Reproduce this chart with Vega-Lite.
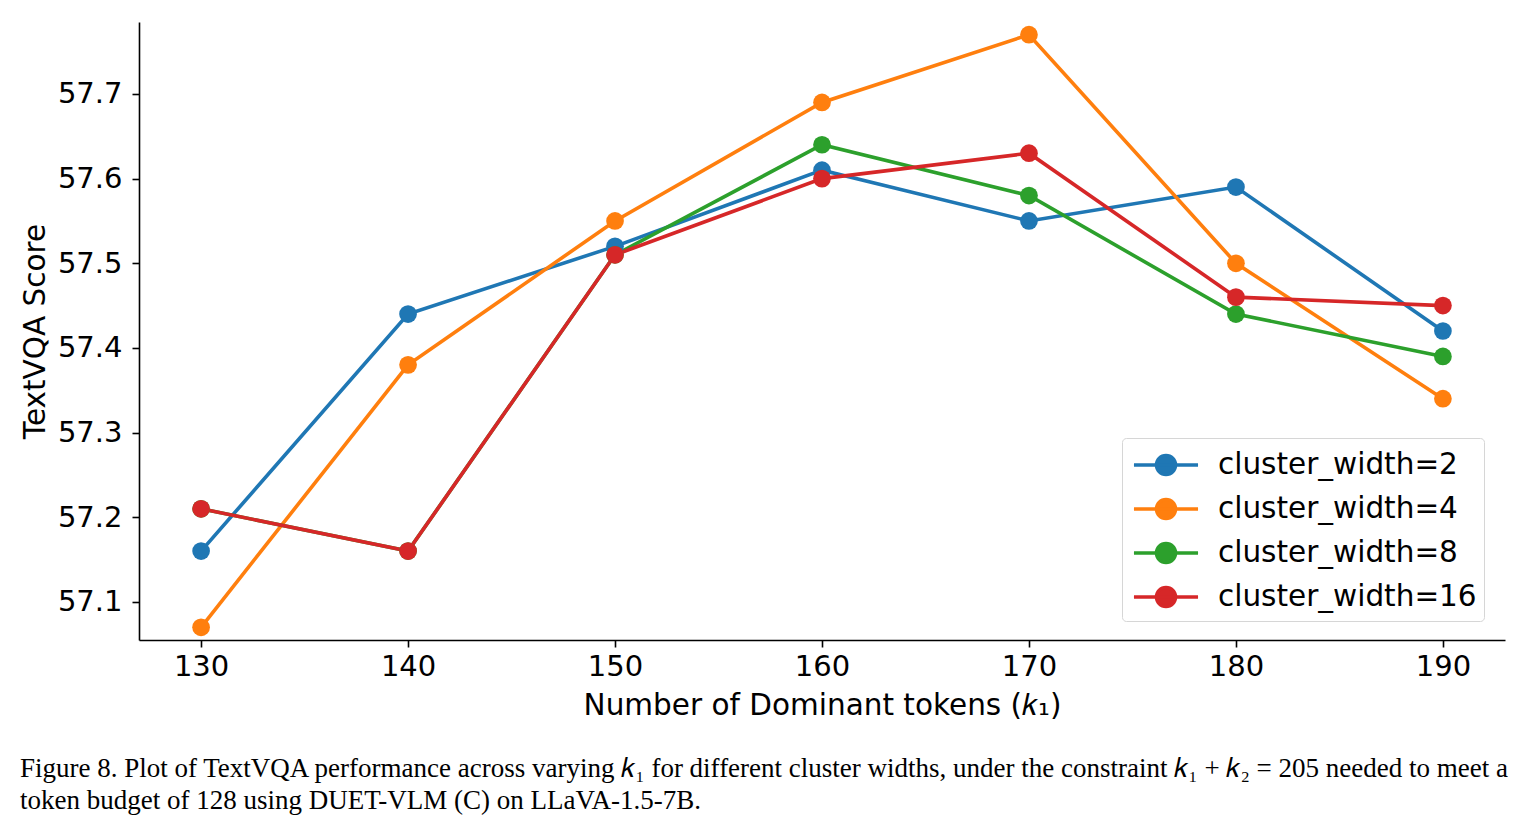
{
  "$schema": "https://vega.github.io/schema/vega-lite/v6.json",
  "width": 1366,
  "height": 618,
  "autosize": {"type": "none"},
  "padding": {"left": 139, "top": 22, "right": 16, "bottom": 190},
  "background": "white",
  "config": {
    "view": {"stroke": null},
    "font": "DejaVu Sans",
    "axis": {
      "domainColor": "black",
      "domainWidth": 1.6,
      "tickColor": "black",
      "tickWidth": 1.6,
      "tickSize": 7,
      "labelColor": "black",
      "labelFont": "DejaVu Sans",
      "labelFontSize": 29,
      "titleFont": "DejaVu Sans",
      "titleFontSize": 29.5,
      "titleFontWeight": "normal",
      "titleColor": "black",
      "grid": false
    }
  },
  "title": {
    "text": [
      "Figure 8. Plot of TextVQA performance across varying 𝑘₁ for different cluster widths, under the constraint 𝑘₁ + 𝑘₂ = 205 needed to meet a",
      "token budget of 128 using DUET-VLM (C) on LLaVA-1.5-7B."
    ],
    "orient": "bottom",
    "anchor": "start",
    "frame": "group",
    "align": "left",
    "dx": -119,
    "offset": 36,
    "font": "Liberation Serif",
    "fontSize": 27,
    "fontWeight": "normal",
    "color": "black",
    "lineHeight": 32
  },
  "data": {
    "values": [
      {"k1": 130, "score": 57.16, "series": "cluster_width=2"},
      {"k1": 140, "score": 57.44, "series": "cluster_width=2"},
      {"k1": 150, "score": 57.52, "series": "cluster_width=2"},
      {"k1": 160, "score": 57.61, "series": "cluster_width=2"},
      {"k1": 170, "score": 57.55, "series": "cluster_width=2"},
      {"k1": 180, "score": 57.59, "series": "cluster_width=2"},
      {"k1": 190, "score": 57.42, "series": "cluster_width=2"},
      {"k1": 130, "score": 57.07, "series": "cluster_width=4"},
      {"k1": 140, "score": 57.38, "series": "cluster_width=4"},
      {"k1": 150, "score": 57.55, "series": "cluster_width=4"},
      {"k1": 160, "score": 57.69, "series": "cluster_width=4"},
      {"k1": 170, "score": 57.77, "series": "cluster_width=4"},
      {"k1": 180, "score": 57.50, "series": "cluster_width=4"},
      {"k1": 190, "score": 57.34, "series": "cluster_width=4"},
      {"k1": 130, "score": 57.21, "series": "cluster_width=8"},
      {"k1": 140, "score": 57.16, "series": "cluster_width=8"},
      {"k1": 150, "score": 57.51, "series": "cluster_width=8"},
      {"k1": 160, "score": 57.64, "series": "cluster_width=8"},
      {"k1": 170, "score": 57.58, "series": "cluster_width=8"},
      {"k1": 180, "score": 57.44, "series": "cluster_width=8"},
      {"k1": 190, "score": 57.39, "series": "cluster_width=8"},
      {"k1": 130, "score": 57.21, "series": "cluster_width=16"},
      {"k1": 140, "score": 57.16, "series": "cluster_width=16"},
      {"k1": 150, "score": 57.51, "series": "cluster_width=16"},
      {"k1": 160, "score": 57.60, "series": "cluster_width=16"},
      {"k1": 170, "score": 57.63, "series": "cluster_width=16"},
      {"k1": 180, "score": 57.46, "series": "cluster_width=16"},
      {"k1": 190, "score": 57.45, "series": "cluster_width=16"}
    ]
  },
  "encoding": {
    "x": {
      "field": "k1",
      "type": "quantitative",
      "scale": {"domain": [127, 193], "nice": false, "zero": false},
      "axis": {
        "values": [130, 140, 150, 160, 170, 180, 190],
        "labelPadding": 5,
        "title": "Number of Dominant tokens (𝑘₁)",
        "titlePadding": 10
      }
    },
    "y": {
      "field": "score",
      "type": "quantitative",
      "scale": {"domain": [57.055, 57.785], "nice": false, "zero": false},
      "axis": {
        "values": [57.1, 57.2, 57.3, 57.4, 57.5, 57.6, 57.7],
        "format": ".1f",
        "labelPadding": 10,
        "title": "TextVQA Score",
        "titlePadding": 7
      }
    },
    "color": {
      "field": "series",
      "type": "nominal",
      "scale": {
        "domain": ["cluster_width=2", "cluster_width=4", "cluster_width=8", "cluster_width=16"],
        "range": ["#1f77b4", "#ff7f0e", "#2ca02c", "#d62728"]
      },
      "legend": {
        "title": null,
        "orient": "none",
        "legendX": 983,
        "legendY": 416,
        "padding": 7,
        "fillColor": "white",
        "strokeColor": "#d6d6d6",
        "cornerRadius": 4,
        "symbolType": "M-1.78,0H1.78M0.53,0A0.53,0.53 0 1,1 -0.53,0A0.53,0.53 0 1,1 0.53,0Z",
        "symbolSize": 1296,
        "symbolStrokeWidth": 3.5,
        "symbolOffset": 17,
        "labelFont": "DejaVu Sans",
        "labelFontSize": 29.5,
        "labelColor": "black",
        "labelOffset": 32,
        "labelLimit": 0,
        "rowPadding": 7
      }
    }
  },
  "layer": [
    {"mark": {"type": "line", "strokeWidth": 3.6}},
    {"mark": {"type": "point", "filled": true, "opacity": 1, "size": 314, "shape": "circle"}}
  ]
}
